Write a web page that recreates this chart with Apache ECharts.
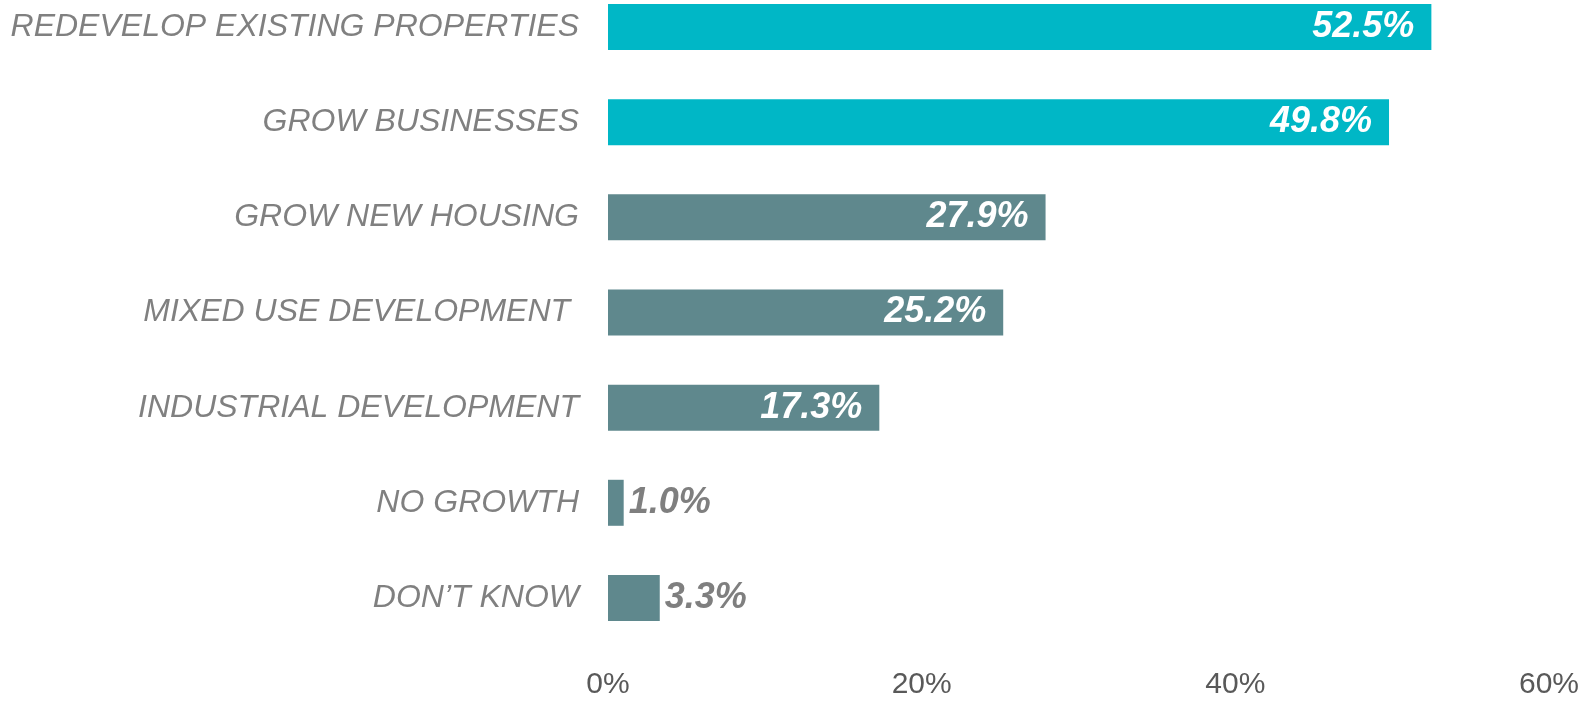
<!DOCTYPE html>
<html lang="en">
<head>
    <meta charset="UTF-8">
    <title>Growth Priorities</title>
    <script src="https://cdn.jsdelivr.net/npm/echarts@6.0.0/dist/echarts.min.js"></script>
    <style>
        html, body { margin: 0; padding: 0; background: #fff; }
        #main { width: 1584px; height: 701px; }
    </style>
</head>
<body>
    <div id="main"></div>
    <script>
        // chart data
        const categories = [
            'REDEVELOP EXISTING PROPERTIES',
            'GROW BUSINESSES',
            'GROW NEW HOUSING',
            'MIXED USE DEVELOPMENT ',
            'INDUSTRIAL DEVELOPMENT',
            'NO GROWTH',
            'DON\u2019T KNOW'
        ];
        const values = [52.5, 49.8, 27.9, 25.2, 17.3, 1.0, 3.3];
        const highlighted = ['REDEVELOP EXISTING PROPERTIES', 'GROW BUSINESSES'];
        const xTicks = [0, 20, 40, 60];

        const font = 'Liberation Sans, Arial, sans-serif';

        const seriesData = values.map((v, i) => {
            const hot = highlighted.includes(categories[i]);
            const inside = v > 10;
            return {
                value: v,
                itemStyle: { color: hot ? '#00B7C6' : '#5F888D' },
                label: inside
                    ? { position: 'insideRight', distance: 17, color: '#ffffff' }
                    : { position: 'right', distance: 5, color: '#7F7F7F' }
            };
        });

        const chart = echarts.init(document.getElementById('main'));
        chart.setOption({
            animation: false,
            grid: { left: 608, right: 35, top: -20.5, bottom: 55.5, outerBoundsMode: 'none' },
            xAxis: {
                type: 'value',
                min: xTicks[0],
                max: xTicks[xTicks.length - 1],
                interval: 20,
                splitLine: { show: false },
                axisLine: { show: false },
                axisTick: { show: false },
                axisLabel: {
                    formatter: '{value}%',
                    fontFamily: font,
                    fontSize: 30,
                    color: '#595959',
                    margin: 24
                }
            },
            yAxis: {
                type: 'category',
                data: categories,
                inverse: true,
                axisLine: { show: false },
                axisTick: { show: false },
                axisLabel: {
                    fontFamily: font,
                    fontStyle: 'italic',
                    fontSize: 32,
                    color: '#808080',
                    margin: 29
                }
            },
            series: [{
                type: 'bar',
                data: seriesData,
                barWidth: 46,
                label: {
                    show: true,
                    formatter: p => p.value.toFixed(1) + '%',
                    fontFamily: font,
                    fontStyle: 'italic',
                    fontWeight: 'bold',
                    fontSize: 36
                }
            }]
        });
    </script>
</body>
</html>
